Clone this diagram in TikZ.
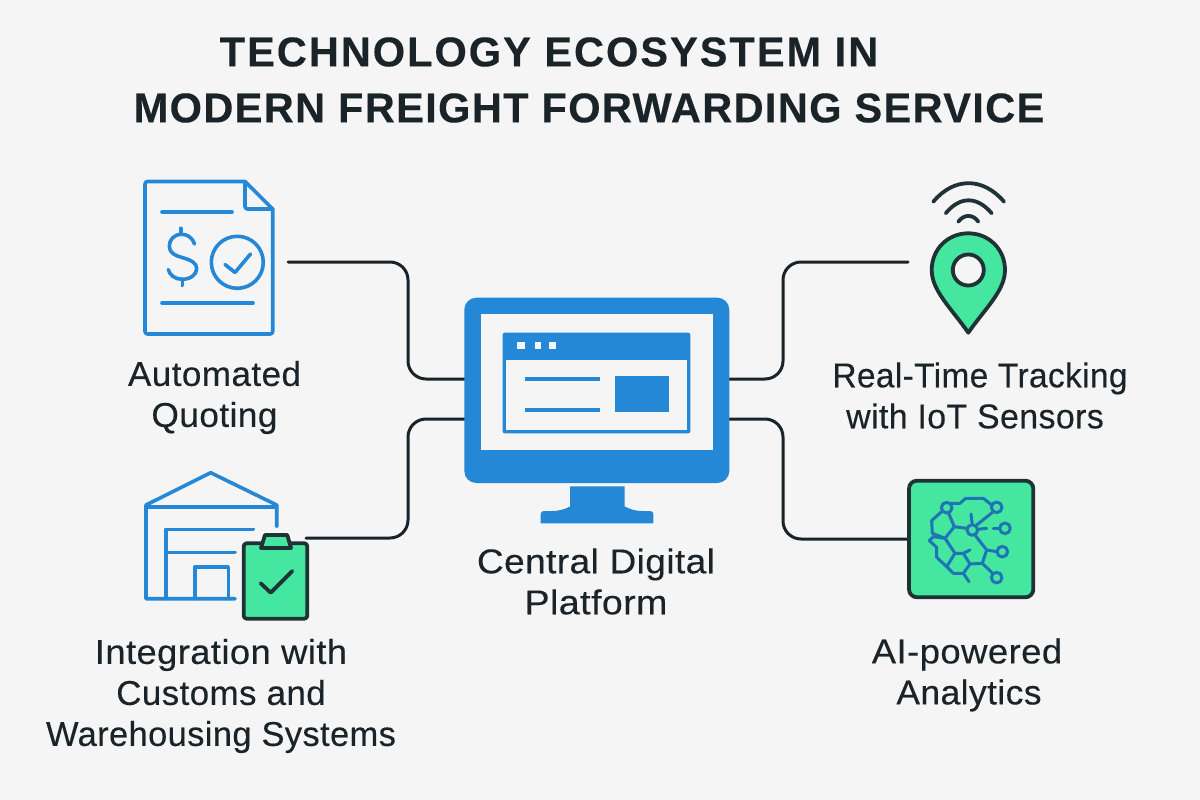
\documentclass[tikz,border=0pt]{standalone}
\usepackage{graphicx}
\usepackage{fontspec}
\setmainfont{Liberation Sans}
\newfontfamily\titlefont[LetterSpace=3.2,FakeBold=0.25]{Liberation Sans}
\newfontfamily\titlefontwide[LetterSpace=4.7,FakeBold=0.25]{Liberation Sans}
\newfontfamily\labelfont[LetterSpace=1.2,FakeBold=0.3]{Liberation Sans}
\newcommand{\widen}[2]{\scalebox{#1}[1]{#2}}
\definecolor{bgc}{HTML}{F5F5F5}
\definecolor{ink}{HTML}{1A2328}
\definecolor{blu}{HTML}{2488D6}
\definecolor{grn}{HTML}{45E6A0}
\definecolor{dkc}{HTML}{1F3236}
\tikzset{
  x=1pt,y=-1pt,
  titletext/.style={text=ink,inner sep=0pt,font=\titlefont\bfseries\fontsize{41.6}{48}\selectfont},
  titlewide/.style={text=ink,inner sep=0pt,font=\titlefontwide\bfseries\fontsize{41.6}{48}\selectfont},
  labeltext/.style={text=ink,inner sep=0pt,align=center,font=\labelfont\fontsize{34.4}{41}\selectfont},
  link/.style={draw=ink,line width=3pt,rounded corners=18pt,line cap=round},
  blueline/.style={draw=blu,line width=3.6pt,line cap=round,line join=round},
  darkline/.style={draw=dkc,line width=3.8pt,line cap=round,line join=round},
  netline/.style={draw=blu!85!black,line width=3pt,line cap=round,line join=round},
  netdot/.style={netline,fill=grn},
}
\begin{document}
\begin{tikzpicture}
\useasboundingbox[fill=bgc] (0,0) rectangle (1200,800);
% titles
\node[titlewide] (title1) at (549,52) {TECHNOLOGY ECOSYSTEM IN};
\node[titletext] (title2) at (589,108) {MODERN FREIGHT FORWARDING SERVICE};
% anchors of the monitor and of the icons
\coordinate (quoteport) at (288,262);
\coordinate (customsport) at (306,538);
\coordinate (trackport) at (908,262);
\coordinate (aiport) at (908,539);
\coordinate (monUL) at (465,379);
\coordinate (monLL) at (465,419);
\coordinate (monUR) at (729,379);
\coordinate (monLR) at (729,419);
% connectors
\draw[link] (quoteport) -| (408,320) |- (monUL);
\draw[link] (customsport) -| (408,480) |- (monLL);
\draw[link] (monUR) -| (783,320) |- (trackport);
\draw[link] (monLR) -| (783,480) |- (aiport);
% document icon
\draw[blueline,rounded corners=2.5pt] (245,181.5) -- (145,181.5) -- (145,334) -- (272.7,334) -- (272.7,209);
\draw[blueline] (245,181.5) -- (272.7,209);
\draw[blueline,rounded corners=2.5pt] (245,181.5) -- (245,209) -- (272.7,209);
\draw[blueline] (162,212) -- (232,212);
\draw[blueline] (162,303) -- (253,303);
\draw[blueline] (237.3,262.3) circle[radius=26];
\draw[blueline] (225,264.5) -- (235,272.5) -- (250.5,254);
\draw[blueline] (194.5,244) .. controls (192,237) and (187,234.3) .. (181.5,234.3) .. controls (174,234.3) and (169.3,240) .. (169.3,246) .. controls (169.3,253) and (175,255.5) .. (182,257.5) .. controls (191,260) and (196.7,263) .. (196.7,268.5) .. controls (196.7,275) and (190,279.3) .. (182,279.3) .. controls (175,279.3) and (169.5,275) .. (168.3,269.5);
\draw[blueline] (180.7,228.3) -- (180.7,234.3);
\draw[blueline] (182.3,279.3) -- (182.3,285.5);
% warehouse icon
\draw[blueline] (276.7,526.5) -- (276.7,505) -- (210.7,472.7) -- (146,505) -- (146,598.7) -- (235,598.7);
\draw[blueline] (146,506.7) -- (276.7,506.7);
\draw[blueline] (253.3,529.3) -- (165.7,529.3) -- (165.7,598.7);
\draw[blueline] (165.7,552.3) -- (235,552.3);
\draw[blueline] (195,598.7) -- (195,566.7) -- (228.3,566.7) -- (228.3,598.7);
% clipboard icon
\draw[darkline,fill=grn,rounded corners=3pt] (243.7,543.3) rectangle (307.3,618.7);
\draw[darkline,fill=grn,line join=round] (261,548) -- (265,535) -- (287.3,535) -- (291,548) -- cycle;
\draw[darkline] (260.7,583.3) -- (270.7,592.7) -- (292.3,571);
% monitor
\fill[blu,rounded corners=12pt] (464.3,297.7) rectangle (729.3,483);
\fill[bgc] (480.7,314.3) rectangle (713,450);
\fill[blu,rounded corners=2pt] (502.7,332.7) rectangle (690.3,433.3);
\fill[bgc] (506.3,359.7) rectangle (687,430);
\fill[bgc] (517,342.3) rectangle (524.7,348.7);
\fill[bgc] (534.7,342.3) rectangle (540.7,348.7);
\fill[bgc] (549.3,342.3) rectangle (555.7,348.7);
\fill[blu] (524.7,377) rectangle (599.7,381);
\fill[blu] (524.7,408.3) rectangle (599.7,412.3);
\fill[blu] (615,376.3) rectangle (669,411.7);
\fill[blu] (570,486.3) -- (624.7,486.3) -- (624.7,506.5) .. controls (630,509) and (635,511) .. (642,511) -- (650,511) .. controls (652.5,511) and (653.3,512.5) .. (653.3,514) -- (653.3,523.3) -- (540.7,523.3) -- (540.7,514) .. controls (540.7,512.5) and (542,511) .. (544,511) -- (552,511) .. controls (560,511) and (565,509) .. (570,506.5) -- cycle;
% pin icon
\draw[darkline,fill=grn] (968.3,332.7) .. controls (952,309) and (931.7,291) .. (931.7,270) .. controls (931.7,249) and (948,233.3) .. (968.3,233.3) .. controls (988.6,233.3) and (1005,249) .. (1005,270) .. controls (1005,291) and (984.6,309) .. (968.3,332.7) -- cycle;
\draw[darkline,fill=bgc] (968.3,270) circle[radius=15.5];
\draw[darkline] (933.3,201.7) .. controls (954,177) and (983,177) .. (1004,201.7);
\draw[darkline] (945.7,213.3) .. controls (960,196) and (977,196) .. (991.7,213.3);
\draw[darkline] (958.3,221.7) .. controls (964,214) and (973,214) .. (978.3,221.7);
% AI chip icon
\draw[darkline,fill=grn,rounded corners=8pt] (909,480.7) rectangle (1033.3,597.3);
\begin{scope}[shift={(895,470)},x=0.3333pt,y=-0.3333pt]
\draw[netline] (165,100) -- (195,100) -- (212,85) -- (265,85) -- (290,105);
\draw[netline] (143,122) -- (110,152) -- (112,190) -- (150,205);
\draw[netline] (160,128) -- (178,170) -- (215,175);
\draw[netline] (178,170) -- (150,205) -- (180,250) -- (155,290) -- (175,310) -- (205,310) -- (225,282) -- (205,250) -- (180,250);
\draw[netline] (150,205) -- (115,200) -- (103,212) -- (125,232) -- (125,262) -- (155,290);
\draw[netline] (205,310) -- (222,335);
\draw[netline] (205,250) -- (225,240);
\draw[netline] (228,132) -- (232,165);
\draw[netline] (248,178) -- (275,175);
\draw[netline] (295,175) -- (315,175);
\draw[netline] (295,125) -- (245,165);
\draw[netline] (240,195) -- (275,240) -- (305,245);
\draw[netline] (275,240) -- (262,280) -- (225,282);
\draw[netline] (262,280) -- (295,312);
\draw[netdot] (155,113) circle[radius=16];
\draw[netdot] (305,112) circle[radius=16];
\draw[netdot] (232,180) circle[radius=16];
\draw[netdot] (330,175) circle[radius=16];
\draw[netdot] (322,245) circle[radius=16];
\draw[netdot] (305,323) circle[radius=16];
\end{scope}
% labels
\node[labeltext] (quotelabel) at (214.5,397.5) {\widen{1.02}{Automated}\\\widen{1.025}{Quoting}};
\node[labeltext] (tracklabel) at (980,395.5) {\widen{0.97}{Real-Time Tracking}\\\hspace*{-10pt}\widen{0.985}{with IoT Sensors}};
\node[labeltext] (centerlabel) at (596,581.5) {\widen{1.075}{Central Digital}\\\widen{1.09}{Platform}};
\node[labeltext] (customslabel) at (221,696) {\widen{1.055}{Integration with}\\\widen{1.015}{Customs and}\\\widen{1.0}{Warehousing Systems}};
\node[labeltext] (ailabel) at (967,675) {\widen{1.06}{AI-powered}\\\hspace*{4pt}\widen{1.03}{Analytics}};
\end{tikzpicture}
\end{document}
